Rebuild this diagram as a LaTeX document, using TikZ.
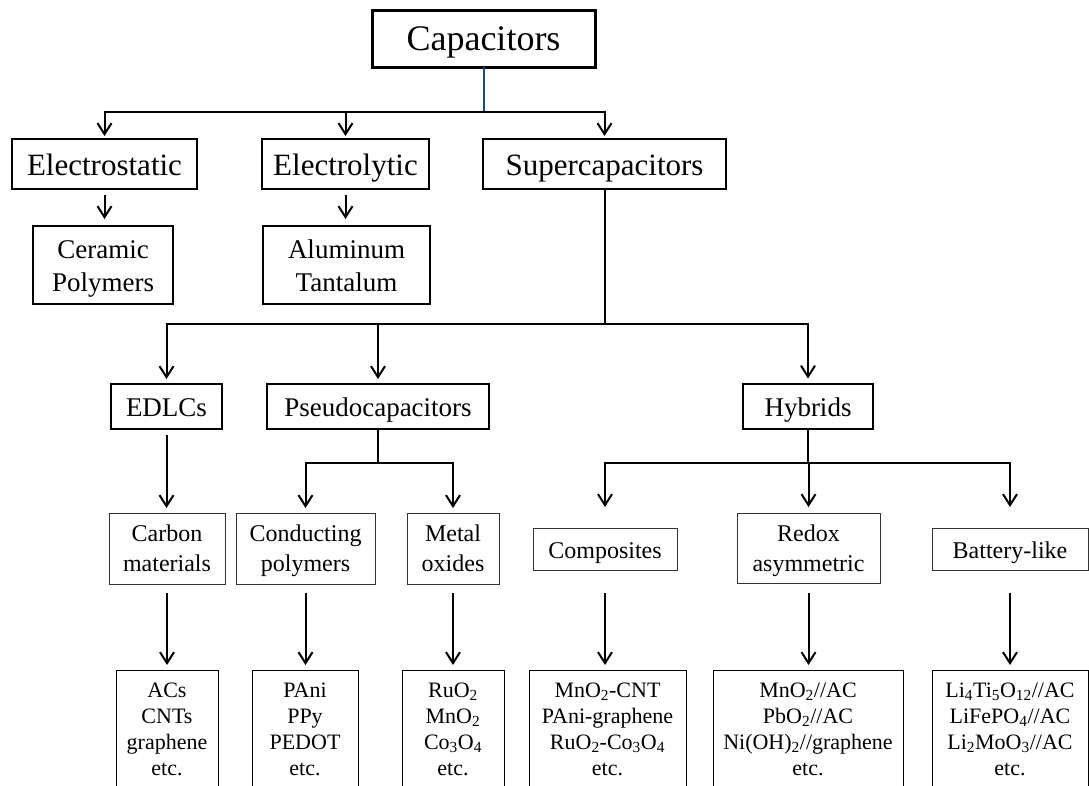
\documentclass[tikz,border=0pt]{standalone}
\usepackage{fontspec}
\setmainfont{Liberation Serif}
\usetikzlibrary{arrows.meta}
\definecolor{lineblue}{RGB}{31,73,125}
\begin{document}
\begin{tikzpicture}[x=1pt,y=-1pt,
  box/.style={draw=black, inner sep=0pt, outer sep=0pt, align=center, text=black, text depth=0pt},
  n0/.style={box, line width=3pt, minimum width=223pt, minimum height=57pt, text height=23.8pt, font=\fontsize{36}{43}\selectfont},
  n1/.style={box, line width=2pt, minimum height=50pt, text height=23.6pt, font=\fontsize{31}{37}\selectfont},
  n1b/.style={box, line width=2pt, minimum height=78pt, text height=52.8pt, font=\fontsize{27}{33}\selectfont},
  n2/.style={box, line width=2pt, minimum height=45pt, text height=20.8pt, font=\fontsize{27}{32}\selectfont},
  n3/.style={box, draw=black!80, line width=1pt, text height=46pt, font=\fontsize{24}{30}\selectfont},
  n3s/.style={n3, minimum height=42pt, text height=19.7pt},
  lst/.style={box, line width=1pt, anchor=north, minimum height=118pt, font=\fontsize{22}{26}\selectfont},
  conn/.style={draw=black, line width=2pt},
  blueconn/.style={draw=lineblue, line width=2pt},
  arr/.style={conn, -{Straight Barb[length=11pt,width=14pt,line width=2pt]}}
]
\useasboundingbox (0,0) rectangle (1089,785);
\fill[white] (0,0) rectangle (1089,785);
\clip (0,0) rectangle (1089,785);

% nodes
\node[n0] (cap) at (483.5,38.5) {Capacitors};
\node[n1, minimum width=185pt] (estat) at (104.5,164) {Electrostatic};
\node[n1, minimum width=167pt] (elyt) at (345.5,164) {Electrolytic};
\node[n1, minimum width=243pt] (super) at (604.5,164) {Supercapacitors};
\node[n1b, minimum width=140pt] (ceram) at (103,265) {Ceramic\\Polymers};
\node[n1b, minimum width=167pt] (alum) at (346.5,265) {Aluminum\\Tantalum};
\node[n2, minimum width=111pt] (edlc) at (166.5,406.5) {EDLCs};
\node[n2, minimum width=222pt] (pseudo) at (378,406.5) {Pseudocapacitors};
\node[n2, minimum width=130pt] (hyb) at (808,406) {Hybrids};
\node[n3, minimum width=116pt, minimum height=71pt] (carbon) at (167,548.5) {Carbon\\materials};
\node[n3, minimum width=139pt, minimum height=71pt] (cond) at (305.5,548.5) {Conducting\\polymers};
\node[n3, minimum width=92pt, minimum height=71pt] (metal) at (453,548.5) {Metal\\oxides};
\node[n3s, minimum width=144pt] (comp) at (605,549) {Composites};
\node[n3, minimum width=143pt, minimum height=70pt] (redox) at (808.5,548) {Redox\\asymmetric};
\node[n3s, minimum width=156pt] (batt) at (1010,549) {Battery-like};
\node[lst, minimum width=102pt] (acs) at (167,670) {ACs\\CNTs\\graphene\\etc.};
\node[lst, minimum width=106pt] (pani) at (305,670) {PAni\\PPy\\PEDOT\\etc.};
\node[lst, minimum width=102pt] (ruo) at (453,670) {RuO\textsubscript{2}\\MnO\textsubscript{2}\\Co\textsubscript{3}O\textsubscript{4}\\etc.};
\node[lst, minimum width=157pt] (compl) at (607.5,670) {MnO\textsubscript{2}-CNT\\PAni-graphene\\RuO\textsubscript{2}-Co\textsubscript{3}O\textsubscript{4}\\etc.};
\node[lst, minimum width=190pt] (redl) at (808,670) {MnO\textsubscript{2}//AC\\PbO\textsubscript{2}//AC\\Ni(OH)\textsubscript{2}//graphene\\etc.};
\node[lst, minimum width=156pt] (batl) at (1010,670) {Li\textsubscript{4}Ti\textsubscript{5}O\textsubscript{12}//AC\\LiFePO\textsubscript{4}//AC\\Li\textsubscript{2}MoO\textsubscript{3}//AC\\etc.};

% helper coordinates
\coordinate (j0) at (483,112);
\coordinate (j1) at (605,324);
\coordinate (j2) at (378,463);
\coordinate (j3) at (808,463);
\coordinate (tipH) at (0,507);
\coordinate (r1) at (0,593);
\coordinate (r2) at (0,665);

% top level
\draw[blueconn] (cap.south) -- (cap.south |- j0);
\draw[conn, line cap=rect] (estat.north |- j0) -- (super.north |- j0);
\foreach \n in {estat,elyt,super}
  \draw[arr, shorten >=3pt] (\n.north |- j0) -- (\n.north);
\draw[arr, shorten <=6pt, shorten >=7pt] (estat.south) -- (estat.south |- ceram.north);
\draw[arr, shorten <=6pt, shorten >=7pt] (elyt.south) -- (elyt.south |- alum.north);

% supercapacitors
\draw[conn] (super.south) -- (super.south |- j1);
\draw[conn, line cap=rect] (edlc.north |- j1) -- (hyb.north |- j1);
\foreach \n in {edlc,pseudo,hyb}
  \draw[arr, shorten >=5pt] (\n.north |- j1) -- (\n.north);

% EDLC
\draw[arr, shorten <=6pt, shorten >=5pt] (edlc.south) -- (edlc.south |- carbon.north);

% pseudo
\draw[conn] (pseudo.south) -- (pseudo.south |- j2);
\draw[conn, line cap=rect] (cond.north |- j2) -- (metal.north |- j2);
\foreach \n in {cond,metal}
  \draw[arr, shorten >=5pt] (\n.north |- j2) -- (\n.north);

% hybrids
\draw[conn] (hyb.south) -- (hyb.south |- j3);
\draw[conn, line cap=rect] (comp.north |- j3) -- (batt.north |- j3);
\foreach \n in {comp,redox,batt}
  \draw[arr] (\n.north |- j3) -- (\n.north |- tipH);

% to lists
\draw[arr] (carbon.south |- r1) -- (carbon.south |- r2);
\draw[arr] (cond.south |- r1) -- (cond.south |- r2);
\draw[arr] (metal.south |- r1) -- (metal.south |- r2);
\draw[arr] (comp.south |- r1) -- (comp.south |- r2);
\draw[arr] (redox.south |- r1) -- (redox.south |- r2);
\draw[arr] (batt.south |- r1) -- (batt.south |- r2);
\end{tikzpicture}
\end{document}
